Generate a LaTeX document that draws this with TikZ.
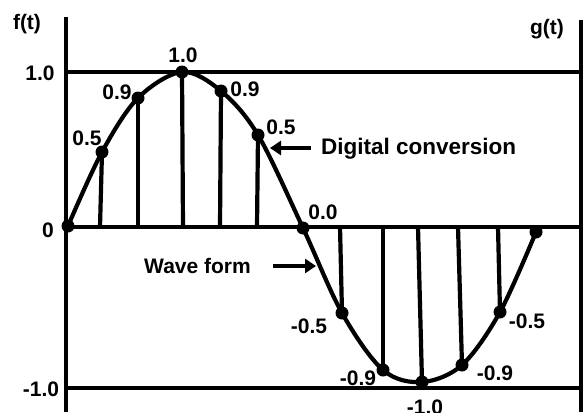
\documentclass[tikz,border=0pt]{standalone}
\usepackage{fontspec}
\setmainfont{Liberation Sans}
\usetikzlibrary{arrows.meta}
\begin{document}
\begin{tikzpicture}[x=1pt,y=-1pt,
  axis/.style={line width=4.8pt},
  wave/.style={line width=4.2pt,line join=round},
  sample/.style={line width=4.2pt},
  dot/.style={circle,fill=black,inner sep=0pt,minimum size=13pt},
  lbl/.style={inner sep=0pt,font=\fontsize{21}{25}\selectfont\bfseries},
  big/.style={font=\fontsize{22.5}{27}\selectfont\bfseries},
  note/.style={line width=3.8pt,-{Triangle[length=11pt,width=14pt]}}]
\useasboundingbox (0,0) rectangle (583,412);
% axes
\coordinate (la0) at (66,17);  \coordinate (la1) at (66,412);
\coordinate (ra0) at (581,20); \coordinate (ra1) at (581,412);
\coordinate (h1a) at (66,72);  \coordinate (h1b) at (581,72);
\coordinate (h0a) at (66,227); \coordinate (h0b) at (581,227);
\coordinate (hma) at (66,388); \coordinate (hmb) at (583,388);
\draw[axis] (la0) -- (la1);
\draw[axis] (ra0) -- (ra1);
\draw[axis] (h1a) -- (h1b);
\draw[axis] (h0a) -- (h0b);
\draw[axis] (hma) -- (hmb);
% sample points
\node[dot] (p0) at (68,226) {};
\node[dot] (p1) at (102,152) {};
\node[dot] (p2) at (138,98) {};
\node[dot] (p3) at (182,72) {};
\node[dot] (p4) at (221,91) {};
\node[dot] (p5) at (258,135) {};
\node[dot] (p6) at (303,228) {};
\node[dot] (p7) at (342,313) {};
\node[dot] (p8) at (383,370) {};
\node[dot] (p9) at (422,382) {};
\node[dot] (p10) at (462,365) {};
\node[dot] (p11) at (500,312) {};
\node[dot] (p12) at (536,232) {};
% feet of sample lines
\coordinate (f1) at (100,227);
\coordinate (f2) at (138,227);
\coordinate (f3) at (183,227);
\coordinate (f4) at (220,227);
\coordinate (f5) at (257,227);
\coordinate (f7) at (340,227);
\coordinate (f8) at (383,227);
\coordinate (f9) at (418,227);
\coordinate (f10) at (458,227);
\coordinate (f11) at (498,227);
\foreach \i in {1,2,3,4,5,7,8,9,10,11} \draw[sample] (p\i.center) -- (f\i);
% wave form
\draw[wave] plot[smooth,tension=0.55] coordinates {(68,226) (102,152) (138,98) (182,72) (221,91) (258,135) (303,228) (342,313) (383,370) (422,382) (462,365) (500,312) (536,232)};
% axis labels
\node[lbl] (ft) at (27,24) {f(t)};
\node[lbl] (gt) at (547,29) {g(t)};
\node[lbl] (y1) at (40,73) {1.0};
\node[lbl] (y0) at (48,230) {0};
\node[lbl] (ym) at (41,389) {-1.0};
% value labels
\node[lbl] (l1) at (87,138) {0.5};
\node[lbl] (l2) at (117,92) {0.9};
\node[lbl] (l3) at (183,55) {1.0};
\node[lbl] (l4) at (245,89) {0.9};
\node[lbl] (l5) at (281,127) {0.5};
\node[lbl] (l6) at (323,212) {0.0};
\node[lbl] (l7) at (309,326) {-0.5};
\node[lbl] (l8) at (358,378) {-0.9};
\node[lbl] (l9) at (425,407) {-1.0};
\node[lbl] (l10) at (495,373) {-0.9};
\node[lbl] (l11) at (527,321) {-0.5};
% annotations
\node[lbl,big,anchor=west] (dc) at (321,149) {Digital conversion};
\coordinate (dctip) at (270,148);
\draw[note] (dc.west) ++(-10,-1) coordinate (dctail) (dctail) -- (dctip);
\node[lbl,anchor=east] (wf) at (251,266) {Wave form};
\coordinate (wftip) at (316,266);
\draw[note] (wf.east) ++(22,0) coordinate (wftail) (wftail) -- (wftip);
\end{tikzpicture}
\end{document}
